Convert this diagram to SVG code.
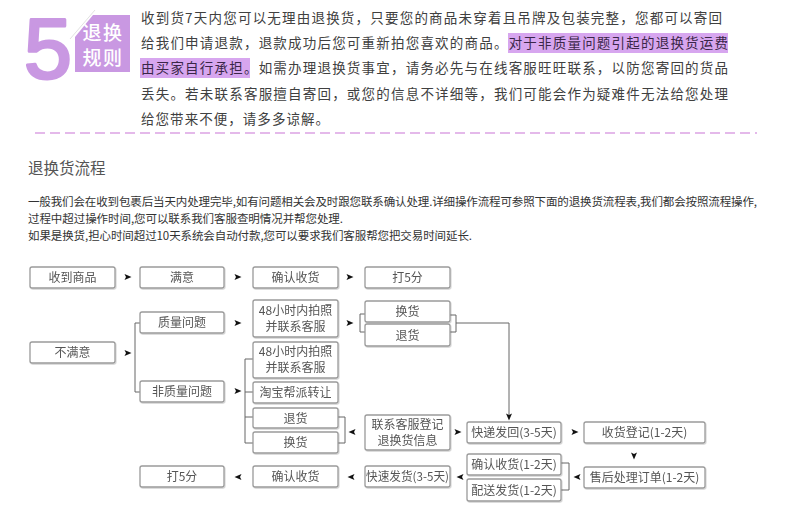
<svg xmlns="http://www.w3.org/2000/svg" width="790" height="516" viewBox="0 0 790 516">
<style>
.body{font-family:"Noto Sans CJK SC","Noto Sans",sans-serif;font-size:13.5px;fill:#404040}
.hl{fill:#3a2648}
.p{font-family:"Noto Sans CJK SC","Noto Sans",sans-serif;font-size:11.5px;fill:#333}
.box rect{fill:#fff;stroke:#9a9a9a;stroke-width:1.3}
.box text{font-family:"Noto Sans CJK SC","Noto Sans",sans-serif;font-size:12px;fill:#555;text-anchor:middle}
.ln{fill:none;stroke:#666;stroke-width:1}
.ah{fill:#111}
</style>
<defs>
<path id="tri" d="M-3.5,-3 L3.5,0 L-3.5,3 L-2,0 Z"/>
<filter id="sh" x="-10%" y="-10%" width="130%" height="140%">
<feDropShadow dx="0.8" dy="1" stdDeviation="0.6" flood-color="#000" flood-opacity="0.18"/>
</filter>
</defs>
<rect width="790" height="516" fill="#fff"/>

<g id="logo">
<text x="24" y="78" font-family="Liberation Sans, sans-serif" font-size="86" fill="#c998e2" stroke="#c998e2" stroke-width="3" stroke-linejoin="round">5</text>
<polygon points="93,15 130,15 130,72 75,72 75,37" fill="#c998e2"/>
<line x1="70" y1="39" x2="95" y2="10" stroke="#e2e2e2" stroke-width="1"/>
<text x="103" y="40" font-family="Noto Sans CJK SC, sans-serif" font-size="19" font-weight="500" fill="#fff" text-anchor="middle" letter-spacing="1.5">退换</text>
<text x="103" y="65" font-family="Noto Sans CJK SC, sans-serif" font-size="19" font-weight="500" fill="#fff" text-anchor="middle" letter-spacing="1.5">规则</text>
</g>

<g id="intro">
<rect x="508" y="33" width="220" height="20" fill="#d7a6ef"/>
<rect x="140" y="58" width="110" height="20" fill="#d7a6ef"/>
<text class="body" x="141" y="23" textLength="581" lengthAdjust="spacing">收到货7天内您可以无理由退换货，只要您的商品未穿着且吊牌及包装完整，您都可以寄回</text>
<text class="body" x="141" y="48" textLength="587" lengthAdjust="spacing">给我们申请退款，退款成功后您可重新拍您喜欢的商品。<tspan class="hl">对于非质量问题引起的退换货运费</tspan></text>
<text class="body" x="141" y="73" textLength="587" lengthAdjust="spacing"><tspan class="hl">由买家自行承担。</tspan>如需办理退换货事宜，请务必先与在线客服旺旺联系，以防您寄回的货品</text>
<text class="body" x="141" y="99" textLength="587" lengthAdjust="spacing">丢失。若未联系客服擅自寄回，或您的信息不详细等，我们可能会作为疑难件无法给您处理</text>
<text class="body" x="141" y="124" textLength="188" lengthAdjust="spacing">给您带来不便，请多多谅解。</text>
<line x1="35" y1="133" x2="757" y2="133" stroke="#dba3e3" stroke-width="1.3" stroke-dasharray="10,5"/>
</g>

<g id="process-text">
<text x="28" y="174" font-family="Noto Sans CJK SC, sans-serif" font-size="15.5" fill="#555">退换货流程</text>
<text class="p" x="28" y="206" textLength="729" lengthAdjust="spacing">一般我们会在收到包裹后当天内处理完毕,如有问题相关会及时跟您联系确认处理.详细操作流程可参照下面的退换货流程表,我们都会按照流程操作,</text>
<text class="p" x="28" y="223" textLength="315" lengthAdjust="spacing">过程中超过操作时间,您可以联系我们客服查明情况并帮您处理.</text>
<text class="p" x="28" y="240" textLength="444" lengthAdjust="spacing">如果是换货,担心时间超过10天系统会自动付款,您可以要求我们客服帮您把交易时间延长.</text>
</g>

<g id="connectors">
<path class="ln" d="M140,323 H135 V392 H140"/>
<path class="ln" d="M253,359 H245 V443 H253 M245,392 H253 M245,417 H253"/>
<path class="ln" d="M365,314 H360 V332 H365"/>
<path class="ln" d="M450,315 H456 V332 H450 M456,323 H509 V417"/>
<path class="ln" d="M338,417 H345 V443 H338"/>
<path class="ln" d="M561,463 H569 V490 H561"/>
<use href="#tri" class="ah" transform="translate(128,277)"/>
<use href="#tri" class="ah" transform="translate(238,277)"/>
<use href="#tri" class="ah" transform="translate(350,277)"/>
<use href="#tri" class="ah" transform="translate(238,323)"/>
<use href="#tri" class="ah" transform="translate(350,323)"/>
<use href="#tri" class="ah" transform="translate(128,353)"/>
<use href="#tri" class="ah" transform="translate(238,391)"/>
<use href="#tri" class="ah" transform="translate(352,432) rotate(180)"/>
<use href="#tri" class="ah" transform="translate(458,432)"/>
<use href="#tri" class="ah" transform="translate(575,432)"/>
<use href="#tri" class="ah" transform="translate(634,456) rotate(90)"/>
<use href="#tri" class="ah" transform="translate(509,417) rotate(90)"/>
<use href="#tri" class="ah" transform="translate(577,477) rotate(180)"/>
<use href="#tri" class="ah" transform="translate(460,477) rotate(180)"/>
<use href="#tri" class="ah" transform="translate(351,477) rotate(180)"/>
<use href="#tri" class="ah" transform="translate(238,477) rotate(180)"/>
</g>

<g filter="url(#sh)">
<g id="n1" class="box"><rect x="30" y="267" width="85" height="21" rx="2"/><text x="72.5" y="282">收到商品</text></g>
<g id="n2" class="box"><rect x="140" y="267" width="84" height="21" rx="2"/><text x="182" y="282">满意</text></g>
<g id="n3" class="box"><rect x="253" y="267" width="85" height="21" rx="2"/><text x="295.5" y="282">确认收货</text></g>
<g id="n4" class="box"><rect x="365" y="267" width="85" height="21" rx="2"/><text x="407.5" y="282">打5分</text></g>
<g id="n5" class="box"><rect x="140" y="312" width="84" height="21" rx="2"/><text x="182" y="327">质量问题</text></g>
<g id="n6" class="box"><rect x="253" y="300" width="85" height="37" rx="2"/><text x="295.5" y="315">48小时内拍照</text><text x="295.5" y="331">并联系客服</text></g>
<g id="n7" class="box"><rect x="365" y="301" width="85" height="21" rx="2"/><text x="407.5" y="316">换货</text></g>
<g id="n8" class="box"><rect x="365" y="324" width="85" height="22" rx="2"/><text x="407.5" y="339.5">退货</text></g>
<g id="n9" class="box"><rect x="30" y="342" width="85" height="21" rx="2"/><text x="72.5" y="357">不满意</text></g>
<g id="n10" class="box"><rect x="253" y="342" width="85" height="36" rx="2"/><text x="295.5" y="356">48小时内拍照</text><text x="295.5" y="372">并联系客服</text></g>
<g id="n11" class="box"><rect x="140" y="381" width="84" height="21" rx="2"/><text x="182" y="396">非质量问题</text></g>
<g id="n12" class="box"><rect x="253" y="382" width="85" height="21" rx="2"/><text x="295.5" y="397">淘宝帮派转让</text></g>
<g id="n13" class="box"><rect x="253" y="408" width="85" height="20" rx="2"/><text x="295.5" y="422.5">退货</text></g>
<g id="n14" class="box"><rect x="253" y="432" width="85" height="21" rx="2"/><text x="295.5" y="447">换货</text></g>
<g id="n15" class="box"><rect x="365" y="415" width="85" height="35" rx="2"/><text x="407.5" y="429">联系客服登记</text><text x="407.5" y="445">退换货信息</text></g>
<g id="n16" class="box"><rect x="467" y="422" width="94" height="21" rx="2"/><text x="514" y="437">快递发回(3-5天)</text></g>
<g id="n17" class="box"><rect x="584" y="422" width="121" height="21" rx="2"/><text x="644.5" y="437">收货登记(1-2天)</text></g>
<g id="n18" class="box"><rect x="584" y="467" width="121" height="21" rx="2"/><text x="644.5" y="482">售后处理订单(1-2天)</text></g>
<g id="n19" class="box"><rect x="467" y="454" width="94" height="21" rx="2"/><text x="514" y="469">确认收货(1-2天)</text></g>
<g id="n20" class="box"><rect x="467" y="479" width="94" height="22" rx="2"/><text x="514" y="494.5">配送发货(1-2天)</text></g>
<g id="n21" class="box"><rect x="365" y="466" width="85" height="21" rx="2"/><text x="407.5" y="481" textLength="83" lengthAdjust="spacingAndGlyphs">快速发货(3-5天)</text></g>
<g id="n22" class="box"><rect x="253" y="466" width="85" height="21" rx="2"/><text x="295.5" y="481">确认收货</text></g>
<g id="n23" class="box"><rect x="140" y="466" width="84" height="21" rx="2"/><text x="182" y="481">打5分</text></g>
</g>
</svg>
